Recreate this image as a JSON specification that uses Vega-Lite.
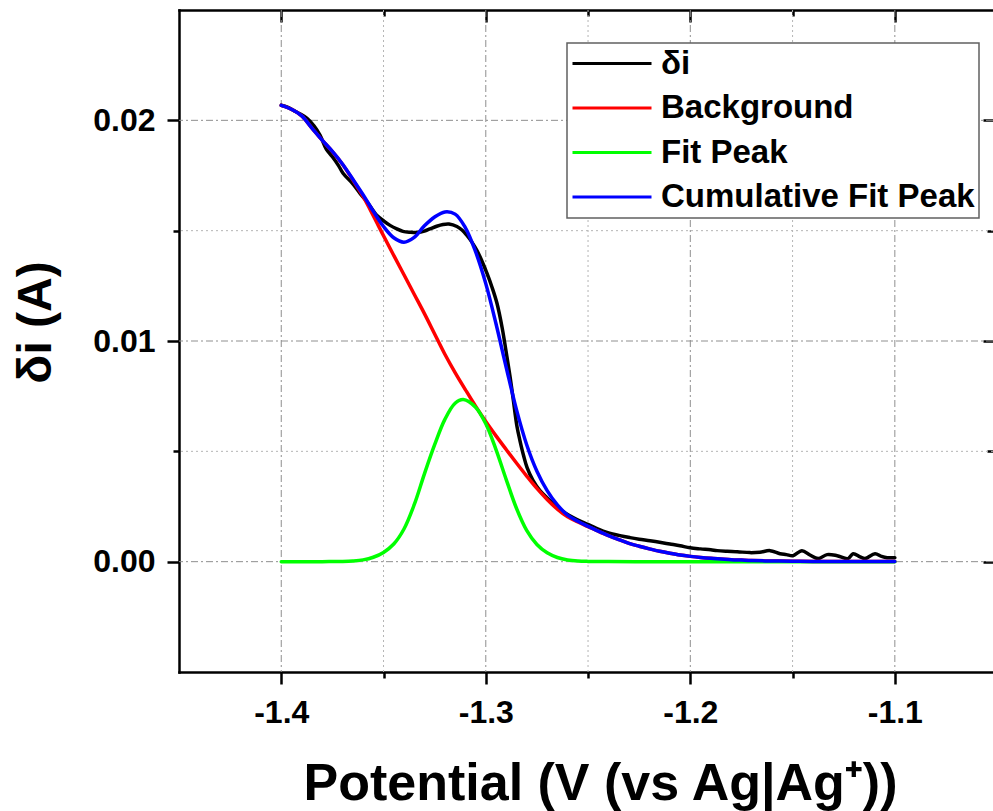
{
  "$schema": "https://vega.github.io/schema/vega-lite/v6.json",
  "width": 814,
  "height": 662,
  "autosize": {"type": "none"},
  "padding": {"left": 179, "top": 10, "right": 0, "bottom": 139},
  "background": "white",
  "config": {
    "view": {"stroke": null},
    "font": "Liberation Sans",
    "axis": {
      "domainColor": "black", "tickColor": "black", "domainWidth": 2.5, "tickWidth": 2.5, "domainCap": "square",
      "labelFont": "Liberation Sans", "labelFontWeight": "bold", "labelFontSize": 32, "labelColor": "black",
      "titleFont": "Liberation Sans", "titleFontWeight": "bold", "titleColor": "black",
      "grid": false, "zindex": 1
    },
    "legend": {"strokeWidth": 1.5}
  },
  "datasets": {
    "xmajor": [{"V": -1.4}, {"V": -1.3}, {"V": -1.2}, {"V": -1.1}],
    "xminor": [{"V": -1.35}, {"V": -1.25}, {"V": -1.15}],
    "ymajor": [{"I": 0}, {"I": 0.01}, {"I": 0.02}],
    "yminor": [{"I": 0.005}, {"I": 0.015}],
    "curves": [
      {"s": "δi", "V": -1.400, "I": 0.02068},
      {"s": "δi", "V": -1.397, "I": 0.02060},
      {"s": "δi", "V": -1.394, "I": 0.02045},
      {"s": "δi", "V": -1.391, "I": 0.02030},
      {"s": "δi", "V": -1.3874, "I": 0.02009},
      {"s": "δi", "V": -1.384, "I": 0.01975},
      {"s": "δi", "V": -1.381, "I": 0.01932},
      {"s": "δi", "V": -1.378, "I": 0.01870},
      {"s": "δi", "V": -1.375, "I": 0.01835},
      {"s": "δi", "V": -1.372, "I": 0.01795},
      {"s": "δi", "V": -1.3698, "I": 0.01760},
      {"s": "δi", "V": -1.365, "I": 0.01712},
      {"s": "δi", "V": -1.3615, "I": 0.01669},
      {"s": "δi", "V": -1.358, "I": 0.01630},
      {"s": "δi", "V": -1.355, "I": 0.01590},
      {"s": "δi", "V": -1.3532, "I": 0.01569},
      {"s": "δi", "V": -1.350, "I": 0.01545},
      {"s": "δi", "V": -1.3468, "I": 0.01524},
      {"s": "δi", "V": -1.3435, "I": 0.01508},
      {"s": "δi", "V": -1.3405, "I": 0.01497},
      {"s": "δi", "V": -1.337, "I": 0.01493},
      {"s": "δi", "V": -1.3336, "I": 0.01492},
      {"s": "δi", "V": -1.330, "I": 0.01498},
      {"s": "δi", "V": -1.3273, "I": 0.01508},
      {"s": "δi", "V": -1.324, "I": 0.01520},
      {"s": "δi", "V": -1.3209, "I": 0.01528},
      {"s": "δi", "V": -1.318, "I": 0.01530},
      {"s": "δi", "V": -1.3141, "I": 0.01519},
      {"s": "δi", "V": -1.3115, "I": 0.01502},
      {"s": "δi", "V": -1.3092, "I": 0.01478},
      {"s": "δi", "V": -1.3068, "I": 0.01448},
      {"s": "δi", "V": -1.3043, "I": 0.01410},
      {"s": "δi", "V": -1.302, "I": 0.01365},
      {"s": "δi", "V": -1.2994, "I": 0.01306},
      {"s": "δi", "V": -1.297, "I": 0.01245},
      {"s": "δi", "V": -1.2945, "I": 0.01170},
      {"s": "δi", "V": -1.292, "I": 0.01060},
      {"s": "δi", "V": -1.2896, "I": 0.00925},
      {"s": "δi", "V": -1.288, "I": 0.00830},
      {"s": "δi", "V": -1.2867, "I": 0.00744},
      {"s": "δi", "V": -1.2847, "I": 0.00610},
      {"s": "δi", "V": -1.2833, "I": 0.00549},
      {"s": "δi", "V": -1.2815, "I": 0.00480},
      {"s": "δi", "V": -1.2798, "I": 0.00426},
      {"s": "δi", "V": -1.277, "I": 0.00370},
      {"s": "δi", "V": -1.2735, "I": 0.00322},
      {"s": "δi", "V": -1.269, "I": 0.00280},
      {"s": "δi", "V": -1.2652, "I": 0.00245},
      {"s": "δi", "V": -1.261, "I": 0.00220},
      {"s": "δi", "V": -1.2573, "I": 0.00200},
      {"s": "δi", "V": -1.253, "I": 0.00180},
      {"s": "δi", "V": -1.249, "I": 0.00165},
      {"s": "δi", "V": -1.245, "I": 0.00148},
      {"s": "δi", "V": -1.2407, "I": 0.00133},
      {"s": "δi", "V": -1.2344, "I": 0.00118},
      {"s": "δi", "V": -1.2295, "I": 0.00109},
      {"s": "δi", "V": -1.225, "I": 0.00102},
      {"s": "δi", "V": -1.2197, "I": 0.00095},
      {"s": "δi", "V": -1.215, "I": 0.00088},
      {"s": "δi", "V": -1.210, "I": 0.00080},
      {"s": "δi", "V": -1.205, "I": 0.00072},
      {"s": "δi", "V": -1.2001, "I": 0.00063},
      {"s": "δi", "V": -1.195, "I": 0.00058},
      {"s": "δi", "V": -1.190, "I": 0.00054},
      {"s": "δi", "V": -1.1869, "I": 0.00050},
      {"s": "δi", "V": -1.182, "I": 0.00047},
      {"s": "δi", "V": -1.177, "I": 0.00045},
      {"s": "δi", "V": -1.1708, "I": 0.00041},
      {"s": "δi", "V": -1.166, "I": 0.00043},
      {"s": "δi", "V": -1.161, "I": 0.00050},
      {"s": "δi", "V": -1.1561, "I": 0.00036},
      {"s": "δi", "V": -1.153, "I": 0.00032},
      {"s": "δi", "V": -1.1498, "I": 0.00027},
      {"s": "δi", "V": -1.1454, "I": 0.00050},
      {"s": "δi", "V": -1.1415, "I": 0.00030},
      {"s": "δi", "V": -1.1375, "I": 0.00014},
      {"s": "δi", "V": -1.1331, "I": 0.00032},
      {"s": "δi", "V": -1.1282, "I": 0.00027},
      {"s": "δi", "V": -1.1229, "I": 0.00014},
      {"s": "δi", "V": -1.1204, "I": 0.00036},
      {"s": "δi", "V": -1.117, "I": 0.00022},
      {"s": "δi", "V": -1.1146, "I": 0.00014},
      {"s": "δi", "V": -1.1097, "I": 0.00036},
      {"s": "δi", "V": -1.1065, "I": 0.00024},
      {"s": "δi", "V": -1.1038, "I": 0.00018},
      {"s": "δi", "V": -1.100, "I": 0.00018},

      {"s": "Background", "V": -1.400, "I": 0.02068},
      {"s": "Background", "V": -1.395, "I": 0.02050},
      {"s": "Background", "V": -1.390, "I": 0.02020},
      {"s": "Background", "V": -1.385, "I": 0.01965},
      {"s": "Background", "V": -1.380, "I": 0.01910},
      {"s": "Background", "V": -1.375, "I": 0.01858},
      {"s": "Background", "V": -1.370, "I": 0.01800},
      {"s": "Background", "V": -1.365, "I": 0.01730},
      {"s": "Background", "V": -1.360, "I": 0.01655},
      {"s": "Background", "V": -1.355, "I": 0.01568},
      {"s": "Background", "V": -1.350, "I": 0.01477},
      {"s": "Background", "V": -1.345, "I": 0.01388},
      {"s": "Background", "V": -1.340, "I": 0.01300},
      {"s": "Background", "V": -1.335, "I": 0.01212},
      {"s": "Background", "V": -1.330, "I": 0.01124},
      {"s": "Background", "V": -1.325, "I": 0.01032},
      {"s": "Background", "V": -1.320, "I": 0.00940},
      {"s": "Background", "V": -1.315, "I": 0.00857},
      {"s": "Background", "V": -1.310, "I": 0.00780},
      {"s": "Background", "V": -1.305, "I": 0.00705},
      {"s": "Background", "V": -1.300, "I": 0.00635},
      {"s": "Background", "V": -1.295, "I": 0.00570},
      {"s": "Background", "V": -1.290, "I": 0.00508},
      {"s": "Background", "V": -1.285, "I": 0.00447},
      {"s": "Background", "V": -1.280, "I": 0.00388},
      {"s": "Background", "V": -1.275, "I": 0.00332},
      {"s": "Background", "V": -1.270, "I": 0.00282},
      {"s": "Background", "V": -1.265, "I": 0.00238},
      {"s": "Background", "V": -1.260, "I": 0.00203},
      {"s": "Background", "V": -1.255, "I": 0.00180},
      {"s": "Background", "V": -1.250, "I": 0.00159},
      {"s": "Background", "V": -1.245, "I": 0.00138},
      {"s": "Background", "V": -1.240, "I": 0.00118},
      {"s": "Background", "V": -1.235, "I": 0.00100},
      {"s": "Background", "V": -1.230, "I": 0.00083},
      {"s": "Background", "V": -1.225, "I": 0.00070},
      {"s": "Background", "V": -1.220, "I": 0.00058},
      {"s": "Background", "V": -1.215, "I": 0.00047},
      {"s": "Background", "V": -1.210, "I": 0.00038},
      {"s": "Background", "V": -1.205, "I": 0.00030},
      {"s": "Background", "V": -1.200, "I": 0.00024},
      {"s": "Background", "V": -1.195, "I": 0.00019},
      {"s": "Background", "V": -1.190, "I": 0.00015},
      {"s": "Background", "V": -1.185, "I": 0.00012},
      {"s": "Background", "V": -1.180, "I": 0.00009},
      {"s": "Background", "V": -1.175, "I": 0.00007},
      {"s": "Background", "V": -1.170, "I": 0.00005},
      {"s": "Background", "V": -1.160, "I": 0.00003},
      {"s": "Background", "V": -1.150, "I": 0.00002},
      {"s": "Background", "V": -1.140, "I": 0.00001},
      {"s": "Background", "V": -1.120, "I": 0.000005},
      {"s": "Background", "V": -1.100, "I": 0.000003},

      {"s": "Fit Peak", "V": -1.400, "I": 0},
      {"s": "Fit Peak", "V": -1.390, "I": 0},
      {"s": "Fit Peak", "V": -1.380, "I": 0.000001},
      {"s": "Fit Peak", "V": -1.375, "I": 0.000005},
      {"s": "Fit Peak", "V": -1.370, "I": 0.00001},
      {"s": "Fit Peak", "V": -1.365, "I": 0.00003},
      {"s": "Fit Peak", "V": -1.360, "I": 0.00008},
      {"s": "Fit Peak", "V": -1.355, "I": 0.00020},
      {"s": "Fit Peak", "V": -1.350, "I": 0.00042},
      {"s": "Fit Peak", "V": -1.345, "I": 0.00080},
      {"s": "Fit Peak", "V": -1.340, "I": 0.00148},
      {"s": "Fit Peak", "V": -1.335, "I": 0.00258},
      {"s": "Fit Peak", "V": -1.330, "I": 0.00398},
      {"s": "Fit Peak", "V": -1.325, "I": 0.00530},
      {"s": "Fit Peak", "V": -1.320, "I": 0.00645},
      {"s": "Fit Peak", "V": -1.315, "I": 0.00718},
      {"s": "Fit Peak", "V": -1.311, "I": 0.00735},
      {"s": "Fit Peak", "V": -1.305, "I": 0.00700},
      {"s": "Fit Peak", "V": -1.300, "I": 0.00625},
      {"s": "Fit Peak", "V": -1.295, "I": 0.00508},
      {"s": "Fit Peak", "V": -1.290, "I": 0.00372},
      {"s": "Fit Peak", "V": -1.285, "I": 0.00242},
      {"s": "Fit Peak", "V": -1.280, "I": 0.00142},
      {"s": "Fit Peak", "V": -1.275, "I": 0.00078},
      {"s": "Fit Peak", "V": -1.270, "I": 0.00040},
      {"s": "Fit Peak", "V": -1.265, "I": 0.00019},
      {"s": "Fit Peak", "V": -1.260, "I": 0.00008},
      {"s": "Fit Peak", "V": -1.255, "I": 0.00003},
      {"s": "Fit Peak", "V": -1.250, "I": 0.000012},
      {"s": "Fit Peak", "V": -1.240, "I": 0.000002},
      {"s": "Fit Peak", "V": -1.220, "I": 0},
      {"s": "Fit Peak", "V": -1.200, "I": 0},
      {"s": "Fit Peak", "V": -1.100, "I": 0},

      {"s": "Cumulative Fit Peak", "V": -1.400, "I": 0.02068},
      {"s": "Cumulative Fit Peak", "V": -1.395, "I": 0.02050},
      {"s": "Cumulative Fit Peak", "V": -1.390, "I": 0.02020},
      {"s": "Cumulative Fit Peak", "V": -1.385, "I": 0.01965},
      {"s": "Cumulative Fit Peak", "V": -1.380, "I": 0.01910},
      {"s": "Cumulative Fit Peak", "V": -1.375, "I": 0.01859},
      {"s": "Cumulative Fit Peak", "V": -1.370, "I": 0.01801},
      {"s": "Cumulative Fit Peak", "V": -1.365, "I": 0.01733},
      {"s": "Cumulative Fit Peak", "V": -1.360, "I": 0.01663},
      {"s": "Cumulative Fit Peak", "V": -1.355, "I": 0.01588},
      {"s": "Cumulative Fit Peak", "V": -1.350, "I": 0.01519},
      {"s": "Cumulative Fit Peak", "V": -1.345, "I": 0.01468},
      {"s": "Cumulative Fit Peak", "V": -1.340, "I": 0.01448},
      {"s": "Cumulative Fit Peak", "V": -1.335, "I": 0.01470},
      {"s": "Cumulative Fit Peak", "V": -1.330, "I": 0.01522},
      {"s": "Cumulative Fit Peak", "V": -1.325, "I": 0.01562},
      {"s": "Cumulative Fit Peak", "V": -1.320, "I": 0.01585},
      {"s": "Cumulative Fit Peak", "V": -1.315, "I": 0.01575},
      {"s": "Cumulative Fit Peak", "V": -1.310, "I": 0.01514},
      {"s": "Cumulative Fit Peak", "V": -1.305, "I": 0.01405},
      {"s": "Cumulative Fit Peak", "V": -1.300, "I": 0.01260},
      {"s": "Cumulative Fit Peak", "V": -1.295, "I": 0.01078},
      {"s": "Cumulative Fit Peak", "V": -1.290, "I": 0.00880},
      {"s": "Cumulative Fit Peak", "V": -1.285, "I": 0.00689},
      {"s": "Cumulative Fit Peak", "V": -1.280, "I": 0.00530},
      {"s": "Cumulative Fit Peak", "V": -1.275, "I": 0.00410},
      {"s": "Cumulative Fit Peak", "V": -1.270, "I": 0.00322},
      {"s": "Cumulative Fit Peak", "V": -1.265, "I": 0.00257},
      {"s": "Cumulative Fit Peak", "V": -1.260, "I": 0.00211},
      {"s": "Cumulative Fit Peak", "V": -1.255, "I": 0.00183},
      {"s": "Cumulative Fit Peak", "V": -1.250, "I": 0.00160},
      {"s": "Cumulative Fit Peak", "V": -1.245, "I": 0.00138},
      {"s": "Cumulative Fit Peak", "V": -1.240, "I": 0.00118},
      {"s": "Cumulative Fit Peak", "V": -1.235, "I": 0.00100},
      {"s": "Cumulative Fit Peak", "V": -1.230, "I": 0.00083},
      {"s": "Cumulative Fit Peak", "V": -1.225, "I": 0.00070},
      {"s": "Cumulative Fit Peak", "V": -1.220, "I": 0.00058},
      {"s": "Cumulative Fit Peak", "V": -1.215, "I": 0.00047},
      {"s": "Cumulative Fit Peak", "V": -1.210, "I": 0.00038},
      {"s": "Cumulative Fit Peak", "V": -1.205, "I": 0.00030},
      {"s": "Cumulative Fit Peak", "V": -1.200, "I": 0.00024},
      {"s": "Cumulative Fit Peak", "V": -1.195, "I": 0.00019},
      {"s": "Cumulative Fit Peak", "V": -1.190, "I": 0.00015},
      {"s": "Cumulative Fit Peak", "V": -1.185, "I": 0.00012},
      {"s": "Cumulative Fit Peak", "V": -1.180, "I": 0.00009},
      {"s": "Cumulative Fit Peak", "V": -1.175, "I": 0.00007},
      {"s": "Cumulative Fit Peak", "V": -1.170, "I": 0.00005},
      {"s": "Cumulative Fit Peak", "V": -1.160, "I": 0.00003},
      {"s": "Cumulative Fit Peak", "V": -1.150, "I": 0.00002},
      {"s": "Cumulative Fit Peak", "V": -1.140, "I": 0.00001},
      {"s": "Cumulative Fit Peak", "V": -1.120, "I": 0.000005},
      {"s": "Cumulative Fit Peak", "V": -1.100, "I": 0.000003}
    ]
  },
  "resolve": {"axis": {"x": "independent", "y": "independent"}},
  "layer": [
    {
      "data": {"name": "xmajor"},
      "mark": {"type": "rule", "color": "#8f8f8f", "strokeWidth": 1, "strokeDash": [7, 3, 2, 3]},
      "encoding": {
        "x": {"field": "V", "type": "quantitative",
          "scale": {"domain": [-1.45, -1.052], "nice": false, "zero": false},
          "axis": {"orient": "top", "values": [-1.4, -1.3, -1.2, -1.1], "tickSize": -12, "labels": false, "title": null, "domain": true}}
      }
    },
    {
      "data": {"name": "xminor"},
      "mark": {"type": "rule", "color": "#b5b5b5", "strokeWidth": 1, "strokeDash": [2, 3]},
      "encoding": {
        "x": {"field": "V", "type": "quantitative",
          "scale": {"domain": [-1.45, -1.052], "nice": false, "zero": false},
          "axis": {"orient": "bottom", "values": [-1.35, -1.25, -1.15], "tickSize": 6, "labels": false, "title": null, "domain": false}}
      }
    },
    {
      "data": {"name": "xminor"},
      "mark": {"type": "rule", "strokeOpacity": 0},
      "encoding": {
        "x": {"field": "V", "type": "quantitative",
          "scale": {"domain": [-1.45, -1.052], "nice": false, "zero": false},
          "axis": {"orient": "top", "values": [-1.35, -1.25, -1.15], "tickSize": -6, "labels": false, "title": null, "domain": false}}
      }
    },
    {
      "data": {"name": "ymajor"},
      "mark": {"type": "rule", "color": "#8f8f8f", "strokeWidth": 1, "strokeDash": [7, 3, 2, 3]},
      "encoding": {
        "y": {"field": "I", "type": "quantitative",
          "scale": {"domain": [-0.005, 0.025], "nice": false, "zero": false},
          "axis": {"orient": "right", "values": [0, 0.01, 0.02], "tickSize": -10, "labels": false, "title": null, "domain": false}}
      }
    },
    {
      "data": {"name": "yminor"},
      "mark": {"type": "rule", "color": "#b5b5b5", "strokeWidth": 1, "strokeDash": [2, 3]},
      "encoding": {
        "y": {"field": "I", "type": "quantitative",
          "scale": {"domain": [-0.005, 0.025], "nice": false, "zero": false},
          "axis": {"orient": "left", "values": [0.005, 0.015], "tickSize": 6, "labels": false, "title": null, "domain": false}}
      }
    },
    {
      "data": {"name": "yminor"},
      "mark": {"type": "rule", "strokeOpacity": 0},
      "encoding": {
        "y": {"field": "I", "type": "quantitative",
          "scale": {"domain": [-0.005, 0.025], "nice": false, "zero": false},
          "axis": {"orient": "right", "values": [0.005, 0.015], "tickSize": -6, "labels": false, "title": null, "domain": false}}
      }
    },
    {
      "data": {"name": "curves"},
      "mark": {"type": "line", "strokeWidth": 3.5, "strokeCap": "round", "strokeJoin": "round", "interpolate": "catmull-rom"},
      "encoding": {
        "x": {"field": "V", "type": "quantitative",
          "scale": {"domain": [-1.45, -1.052], "nice": false, "zero": false},
          "axis": {"orient": "bottom", "values": [-1.4, -1.3, -1.2, -1.1], "format": ".1f", "labelExpr": "replace(datum.label, '\u2212', '-')", "tickSize": 12, "labelPadding": 13,
            "title": "Potential (V (vs Ag|Ag⁺))", "titleFontSize": 52, "titleX": 421, "titleY": 127, "titleBaseline": "alphabetic", "titleAlign": "center", "titleAnchor": null}},
        "y": {"field": "I", "type": "quantitative",
          "scale": {"domain": [-0.005, 0.025], "nice": false, "zero": false},
          "axis": {"orient": "left", "values": [0, 0.01, 0.02], "format": ".2f", "tickSize": 12, "labelPadding": 12,
            "title": "δi (A)", "titleFontSize": 48, "titleX": -143, "titleY": 312, "titleAngle": -90, "titleBaseline": "middle", "titleAlign": "center", "titleAnchor": null}},
        "color": {"field": "s", "type": "nominal",
          "scale": {"domain": ["δi", "Background", "Fit Peak", "Cumulative Fit Peak"], "range": ["#000000", "#ff0000", "#00ff00", "#0000ff"]},
          "legend": {"orient": "none", "legendX": 388, "legendY": 33, "title": null, "fillColor": "white", "strokeColor": "#606060",
            "padding": 4, "symbolType": "stroke", "symbolSize": 6241, "symbolStrokeWidth": 3, "clipHeight": 33,
            "labelFont": "Liberation Sans", "labelFontWeight": "bold", "labelFontSize": 33, "labelColor": "black",
            "labelOffset": 8, "rowPadding": 10.5, "labelLimit": 500}}
      }
    }
  ]
}
